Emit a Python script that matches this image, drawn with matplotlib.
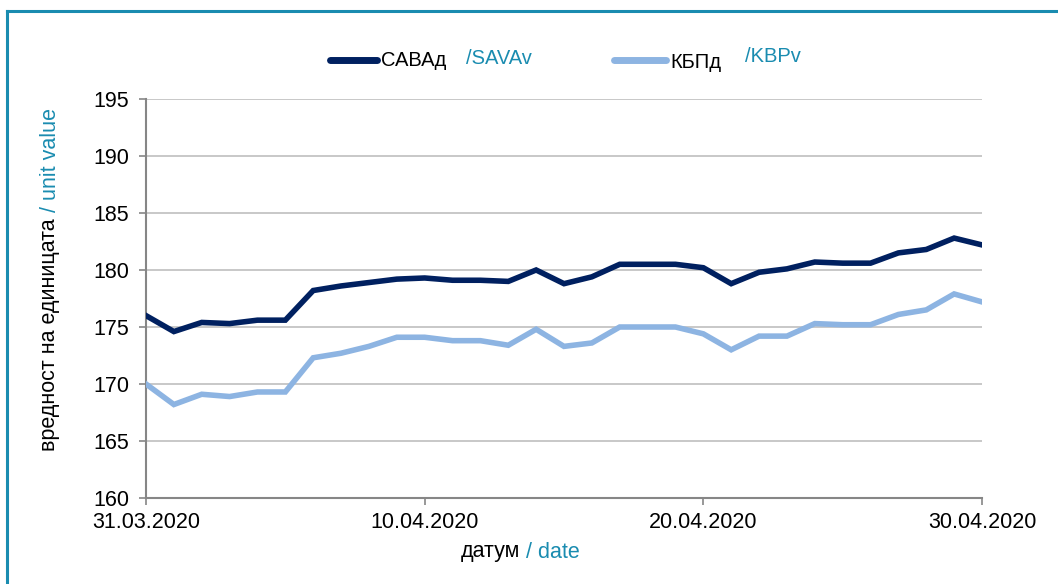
import numpy as np
import matplotlib as mpl
mpl.use('Agg')
import matplotlib.pyplot as plt
from matplotlib.lines import Line2D

mpl.rcParams['font.family'] = ['Liberation Sans', 'DejaVu Sans']

# daily values, 31.03.2020 .. 30.04.2020
days = list(range(31))
sava = [176.0, 174.6, 175.4, 175.3, 175.6, 175.6, 178.2, 178.6, 178.9, 179.2,
        179.3, 179.1, 179.1, 179.0, 180.0, 178.8, 179.4, 180.5, 180.5, 180.5,
        180.2, 178.8, 179.8, 180.1, 180.7, 180.6, 180.6, 181.5, 181.8, 182.8,
        182.2]
kbp = [170.0, 168.2, 169.1, 168.9, 169.3, 169.3, 172.3, 172.7, 173.3, 174.1,
       174.1, 173.8, 173.8, 173.4, 174.8, 173.3, 173.6, 175.0, 175.0, 175.0,
       174.4, 173.0, 174.2, 174.2, 175.3, 175.2, 175.2, 176.1, 176.5, 177.9,
       177.2]
xtick_pos = [0, 10, 20, 30]
xtick_labels = ['31.03.2020', '10.04.2020', '20.04.2020', '30.04.2020']
yticks = [160, 165, 170, 175, 180, 185, 190, 195]

DARK = '#002060'
LIGHT = '#8db4e2'
TEAL = '#1a8cb0'
GRID = '#bfbfbf'
AXIS = '#868686'

W, H = 1058, 584
fig = plt.figure(figsize=(W / 100, H / 100), dpi=100)

def fx(px):
    return px / W

def fy(py):
    return 1 - py / H

ax = fig.add_axes([fx(146), fy(498), fx(982) - fx(146), fy(99) - fy(498)])
ax.plot(days, sava, color=DARK, lw=4, solid_joinstyle='miter', zorder=3)
ax.plot(days, kbp, color=LIGHT, lw=4, solid_joinstyle='miter', zorder=3)

ax.set_xlim(0, 30)
ax.set_ylim(160, 195)
ax.set_yticks(yticks)
ax.set_xticks(xtick_pos)
ax.set_xticklabels(xtick_labels)
ax.yaxis.grid(True, color=GRID, lw=1.2)
ax.set_axisbelow(True)
for s in ['top', 'right']:
    ax.spines[s].set_visible(False)
for s in ['left', 'bottom']:
    ax.spines[s].set_color(AXIS)
    ax.spines[s].set_linewidth(1.5)
ax.tick_params(axis='both', colors=AXIS, labelcolor='black', labelsize=15.5,
               length=5, width=1.2, direction='out')
ax.tick_params(axis='y', pad=7)
ax.tick_params(axis='x', pad=5)

# frame around the figure (only top and left visible in the crop)
fig.add_artist(Line2D([fx(7), 1.0], [fy(11), fy(11)], color=TEAL, lw=2.2))
fig.add_artist(Line2D([fx(7), fx(7)], [fy(11), 0.0], color=TEAL, lw=2.2))

# legend
fig.add_artist(Line2D([fx(330), fx(377)], [fy(60), fy(60)], color=DARK, lw=5,
                      solid_capstyle='round'))
fig.text(fx(381), fy(60), 'САВАд', fontsize=14.5, color='black', va='center')
fig.text(fx(466), fy(59), '/SAVAv', fontsize=14.5, color=TEAL, va='center')
fig.add_artist(Line2D([fx(614), fx(666)], [fy(60), fy(60)], color=LIGHT, lw=5,
                      solid_capstyle='round'))
fig.text(fx(670), fy(62), 'КБПд', fontsize=14.5, color='black', va='center')
fig.text(fx(745), fy(56), '/KBPv', fontsize=14.5, color=TEAL, va='center')

# axis labels, two colours each
fig.canvas.draw()
r = fig.canvas.get_renderer()

t1 = fig.text(fx(461), fy(552), 'датум', fontsize=15.5, color='black',
              va='center', ha='left')
bb = t1.get_window_extent(r)
fig.text(bb.x1 / W, fy(552), ' / date', fontsize=15.5, color=TEAL,
         va='center', ha='left')

t2 = fig.text(fx(50), fy(451), 'вредност на единицата', fontsize=15.5,
              color='black', rotation=90, ha='center', va='bottom')
bb = t2.get_window_extent(r)
fig.text(fx(50), bb.y1 / H, ' / unit value', fontsize=15.5, color=TEAL,
         rotation=90, ha='center', va='bottom')

fig.savefig('out.png', dpi=100)
